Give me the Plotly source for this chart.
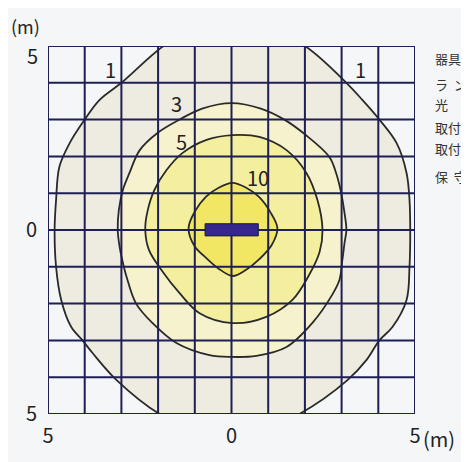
import plotly.graph_objects as go

# ---- data (metres) ----
GRID = [-5, -4, -3, -2, -1, 0, 1, 2, 3, 4, 5]
X_TICKTEXT = ["5", "", "", "", "", "0", "", "", "", "", "5"]
Y_TICKTEXT = ["5", "", "", "", "", "0", "", "", "", "", ""]   # top "5" placed separately
Y_TOP_LABEL = "5"

C1_X = [0, 1.0, 2.0, 3.13, 3.57, 4.03, 4.5, 4.77, 4.85, 4.87, 4.85, 4.77, 4.39, 4.03, 3.68, 3.16, 1.85, 0.9, 0,
        -1.0, -1.96, -3.13, -3.78, -4.06, -4.37, -4.64, -4.78, -4.82, -4.78, -4.69, -4.41, -4.0, -3.6, -3.0, -1.85, -1.0, 0]
C1_Y = [5.6, 5.45, 5.0, 4.0, 3.53, 3.0, 2.36, 1.55, 0.82, 0, -1.0, -1.9, -2.63, -3.0, -3.53, -4.08, -5.0, -5.4, -5.5,
        -5.4, -5.0, -4.08, -3.35, -3.0, -2.63, -1.9, -1.0, 0, 0.82, 1.72, 2.36, 3.0, 3.53, 4.0, 5.0, 5.45, 5.6]

C3_X = [0, 0.8, 1.44, 2.0, 2.67, 2.85, 2.99, 3.08, 3.13, 3.08, 3.02, 2.94, 2.75, 2.2, 1.5, 0.68, 0,
        -0.6, -1.5, -2.15, -2.6, -2.86, -2.98, -3.05, -3.1, -3.07, -2.96, -2.78, -2.5, -2.0, -1.42, -0.8, 0]
C3_Y = [3.45, 3.3, 3.0, 2.6, 1.98, 1.55, 1.0, 0.46, 0, -0.35, -0.82, -1.36, -1.75, -2.53, -3.18, -3.42, -3.45,
        -3.4, -3.07, -2.53, -2.0, -1.27, -0.8, -0.45, 0, 0.54, 1.09, 1.55, 2.17, 2.65, 3.0, 3.3, 3.45]

C5_X = [0.03, 0.76, 1.5, 2.04, 2.34, 2.48, 2.4, 2.1, 1.66, 0.95, 0.03, -0.87, -1.42, -1.9, -2.25, -2.35,
        -2.3, -2.1, -1.77, -1.34, -0.68, 0.03]
C5_Y = [2.58, 2.53, 2.17, 1.55, 0.82, 0, -0.6, -1.25, -1.9, -2.36, -2.53, -2.26, -1.71, -1.1, -0.54, 0,
        0.46, 1.09, 1.63, 2.09, 2.45, 2.58]

C10_X = [0.03, 0.4, 0.75, 1.05, 1.25, 1.1, 0.75, 0.4, 0.03, -0.35, -0.7, -1.0, -1.17, -1.0, -0.7, -0.35, 0.03]
C10_Y = [1.28, 1.15, 0.9, 0.5, 0.05, -0.4, -0.8, -1.08, -1.25, -1.05, -0.75, -0.45, 0.05, 0.5, 0.9, 1.15, 1.28]

LAMP_X = [-0.72, 0.73]
LAMP_Y = [-0.16, 0.17]

LABEL_TEXT = ["1", "1", "3", "5", "10"]
LABEL_X = [-3.3, 3.51, -1.49, -1.35, 0.72]
LABEL_Y = [4.35, 4.35, 3.44, 2.4, 1.43]

SIDE_TEXT = ["器具姿勢", "ラ  ン  プ", "光　　束", "取付高さ", "取付角度", "保  守  率"]
SIDE_Y = [58, 84, 104, 127, 148, 176]  # pixel rows of the side notes (page coords)

# ---- styles / layout ----
FONT = "Noto Sans CJK JP, Noto Sans, sans-serif"
GRID_COLOR = "#1d1f55"
LINE_COLOR = "#2a2a2a"
TXT = "#222222"
BG = "#f4f6f7"
FILLS = ["#eeebe1", "#f6f2cd", "#f4ef9f", "#f2e764"]

BODY = 8                     # default page margin of the html body
W, H = 469 - BODY, 462 - BODY
ML, MT = 48 - BODY, 46 - BODY
PW, PH = 367, 368
MR, MB = W - ML - PW, H - MT - PH


def px_y(py):
    """page pixel row -> paper y"""
    return (MT + PH - (py - BODY)) / PH


def px_x(px):
    """page pixel column -> paper x"""
    return ((px - BODY) - ML) / PW


fig = go.Figure()
for xs, ys, fc in [(C1_X, C1_Y, FILLS[0]), (C3_X, C3_Y, FILLS[1]),
                   (C5_X, C5_Y, FILLS[2]), (C10_X, C10_Y, FILLS[3])]:
    fig.add_trace(go.Scatter(x=xs, y=ys, mode="lines", fill="toself", fillcolor=fc,
                             line=dict(color=LINE_COLOR, width=1.8, shape="spline", smoothing=1.0),
                             hoverinfo="skip", showlegend=False))

shapes = []
for g in GRID:
    shapes.append(dict(type="line", xref="x", yref="y", x0=g, x1=g, y0=GRID[0], y1=GRID[-1],
                       line=dict(color=GRID_COLOR, width=2), layer="above"))
    shapes.append(dict(type="line", xref="x", yref="y", y0=g, y1=g, x0=GRID[0], x1=GRID[-1],
                       line=dict(color=GRID_COLOR, width=2), layer="above"))
shapes.append(dict(type="rect", xref="x", yref="y", x0=LAMP_X[0], x1=LAMP_X[1], y0=LAMP_Y[0], y1=LAMP_Y[1],
                   fillcolor="#35278c", line=dict(color="#1a1a40", width=1), layer="above"))

annotations = []
for t, x, y in zip(LABEL_TEXT, LABEL_X, LABEL_Y):
    annotations.append(dict(x=x, y=y, xref="x", yref="y", text=t, showarrow=False,
                            font=dict(family=FONT, size=20, color=TXT)))
annotations.append(dict(x=px_x(25), y=px_y(26), xref="paper", yref="paper", text="(m)",
                        showarrow=False, xanchor="center", yanchor="middle",
                        font=dict(family=FONT, size=18, color=TXT)))
annotations.append(dict(x=px_x(32), y=px_y(55), xref="paper", yref="paper", text=Y_TOP_LABEL,
                        showarrow=False, xanchor="center", yanchor="middle",
                        font=dict(family=FONT, size=20, color=TXT)))
annotations.append(dict(x=5, y=px_y(438), xref="x", yref="paper", text="(m)", showarrow=False,
                        xanchor="left", yanchor="middle", xshift=6,
                        font=dict(family=FONT, size=20, color=TXT)))
for t, py in zip(SIDE_TEXT, SIDE_Y):
    annotations.append(dict(x=px_x(433), y=px_y(py),
                            xref="paper", yref="paper", text=t, showarrow=False,
                            xanchor="left", yanchor="middle",
                            font=dict(family=FONT, size=13, color="#333333")))

fig.update_layout(
    width=W, height=H, margin=dict(l=ML, r=MR, t=MT, b=MB, autoexpand=False),
    paper_bgcolor=BG, plot_bgcolor=BG,
    shapes=shapes, annotations=annotations,
    xaxis=dict(range=[-5, 5], tickvals=GRID, ticktext=X_TICKTEXT, showgrid=False, zeroline=False,
               showline=False, ticks="", ticklabelstandoff=8, automargin=False,
               tickfont=dict(family=FONT, size=20, color=TXT), fixedrange=True),
    yaxis=dict(range=[-5, 5], tickvals=GRID, ticktext=Y_TICKTEXT, showgrid=False, zeroline=False,
               showline=False, ticks="", ticklabelstandoff=10, automargin=False,
               tickfont=dict(family=FONT, size=20, color=TXT), fixedrange=True),
    showlegend=False,
)

fig.write_html("out.html")
